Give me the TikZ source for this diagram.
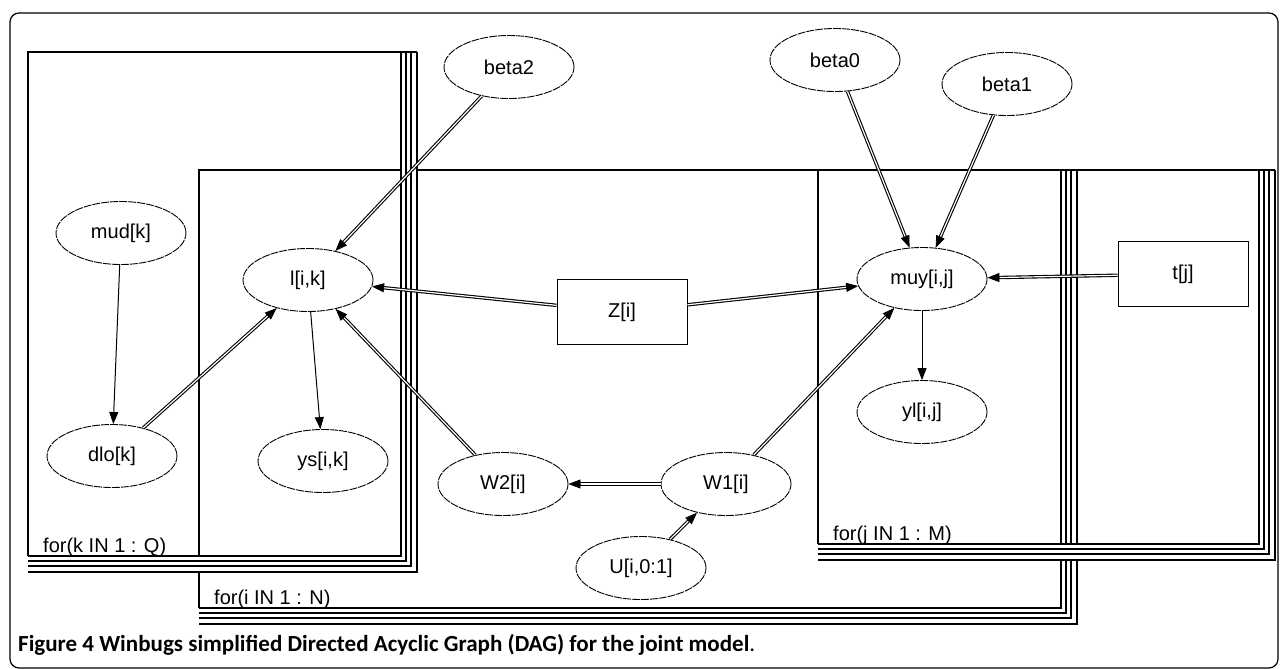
\documentclass[tikz,border=0pt]{standalone}
\usepackage{fontspec}
\usetikzlibrary{shapes.geometric,arrows.meta,calc}
\newfontfamily\nodefont{Liberation Sans}
\newfontfamily\capfont{Carlito}

\tikzset{
  stoch/.style={ellipse, draw, fill=white, line width=0.9pt, dash pattern=on 8pt off 1pt,
    minimum width=130pt, minimum height=63pt, inner sep=0pt,
    font=\nodefont\fontsize{20}{23}\selectfont},
  const/.style={rectangle, draw, fill=white, line width=1pt, minimum width=130pt,
    minimum height=65pt, inner sep=0pt, font=\nodefont\fontsize{20}{23}\selectfont},
  dbl/.style={draw, line width=1.1pt, double=white, double distance=1.2pt, shorten >=10pt},
  tiponly/.style={-{Triangle[length=12pt,width=9pt]}, line width=0.8pt},
  sgl/.style={draw, line width=1pt, -{Triangle[length=12pt,width=9pt]}},
  plateline/.style={line width=1.1pt},
  platelabel/.style={anchor=base west, inner sep=0pt, font=\nodefont\fontsize{20}{23}\selectfont},
  frame/.style={line width=1.2pt, rounded corners=9pt},
}

% plate: left, top, right, bottom, name, label
\newcommand\platebox[6]{%
  \fill[white] (#3,#2) rectangle (#3+16,#4+16);
  \fill[white] (#1,#4) rectangle (#3+16,#4+16);
  \draw[plateline] (#1,#4) -- (#1,#2) -- (#3+16,#2);
  \foreach \d in {0,5,10,16} {\draw[plateline] (#1,#4+\d) -- (#3+\d,#4+\d) -- (#3+\d,#2);}
  \node[platelabel] (#5) at (#1+15,#4-4) {#6};
}

% double-line dependency with a solid triangular head
\newcommand\dlink[2]{%
  \path (#1) -- (#2) coordinate[pos=1] (#1-#2);
  \draw[dbl] (#1) -- (#2);
  \draw[tiponly] ($(#1-#2)!12pt!(#1)$) -- (#1-#2);
}

\begin{document}
\begin{tikzpicture}[x=1pt,y=-1pt]
\useasboundingbox (0,0) rectangle (1282,669);

% outer frame
\draw[frame] (10,13) rectangle (1278,668);

% plates
\platebox{199}{170}{1061}{608}{plateI}{for(i IN 1 : N)}
\platebox{28}{52}{401}{556}{plateK}{for(k IN 1 : Q)}
\platebox{818}{170}{1259}{544}{plateJ}{for(j IN 1 : M)}

% nodes
\node[stoch] (b2)  at (509,67)  {beta2};
\node[stoch] (b0)  at (835,60)  {beta0};
\node[stoch] (b1)  at (1007,84) {beta1};
\node[stoch] (mud) at (121,233) {mud[k]};
\node[stoch] (dlo) at (112,456) {dlo[k]};
\node[stoch] (l)   at (308,280) {l[i,k]};
\node[stoch] (ys)  at (323,461) {ys[i,k]};
\node[const] (Z)   at (622,312) {Z[i]};
\node[stoch] (muy) at (922,279) {muy[i,j]};
\node[const] (t)   at (1183,274) {t[j]};
\node[stoch] (yl)  at (922,412) {yl[i,j]};
\node[stoch] (w2)  at (503,484) {W2[i]};
\node[stoch] (w1)  at (726,484) {W1[i]};
\node[stoch] (u)   at (641,568) {U[i,0:1]};

% dependencies
\dlink{b2}{l}
\draw[sgl] (mud) -- (dlo);
\dlink{dlo}{l}
\draw[sgl] (l) -- (ys);
\dlink{Z}{l}
\dlink{w2}{l}
\dlink{w1}{w2}
\dlink{u}{w1}
\dlink{w1}{muy}
\dlink{Z}{muy}
\dlink{b0}{muy}
\dlink{b1}{muy}
\dlink{t}{muy}
\draw[sgl] (muy) -- (yl);

% caption
\node[anchor=base west, inner sep=0pt, font=\capfont\bfseries\fontsize{17}{20}\selectfont] (cap) at (18,651)
  {\resizebox{737pt}{!}{Figure 4 Winbugs simplified Directed Acyclic Graph (DAG) for the joint model{\mdseries .}}};
\end{tikzpicture}
\end{document}
